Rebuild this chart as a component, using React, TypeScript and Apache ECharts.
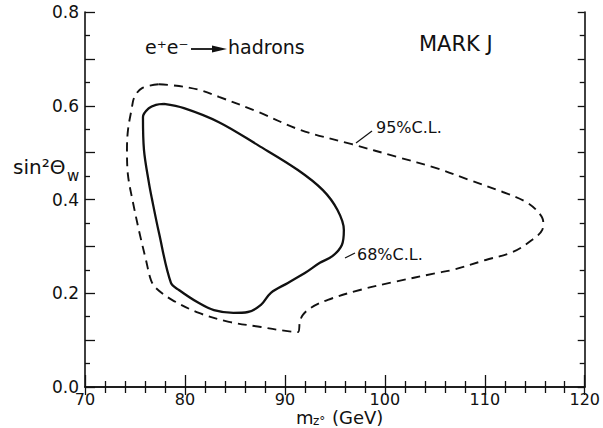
import React, { useEffect, useRef } from 'react';
import * as echarts from 'echarts';

// Axis tick labels
const xTickLabels = [70, 80, 90, 100, 110, 120];
const yTickLabels = [0.0, 0.2, 0.4, 0.6, 0.8];

// 68% C.L. contour (m_Z in GeV, sin^2 theta_W), closed loop
const cl68Mass = [77.9, 79.9, 83.4, 87.3, 91.3, 93.8, 95.25, 95.9, 95.7, 94.75, 93.5, 92.0, 90.3, 88.6, 87.6, 86.3, 84.85, 82.9, 81.4, 79.4, 78.6, 77.4, 76.7, 76.4, 75.9, 75.8, 76.4, 77.1, 77.9];
const cl68Sin2 = [0.604, 0.595, 0.565, 0.516, 0.463, 0.420, 0.378, 0.335, 0.303, 0.279, 0.265, 0.243, 0.222, 0.201, 0.175, 0.160, 0.158, 0.164, 0.179, 0.207, 0.222, 0.329, 0.401, 0.435, 0.506, 0.576, 0.595, 0.602, 0.604];

// 95% C.L. contour, closed loop
const cl95Mass = [77.4, 79.4, 81.4, 83.4, 87.3, 91.6, 96.7, 101.2, 105.15, 108.4, 111.8, 114.1, 115.35, 115.85, 115.75, 114.75, 112.8, 110.1, 106.8, 105.15, 100.9, 97.5, 94.3, 92.6, 91.8, 91.5, 91.3, 89.3, 87.6, 84.4, 81.4, 78.7, 77.1, 76.6, 76.1, 75.45, 74.75, 74.3, 74.2, 74.3, 74.65, 74.95, 75.75, 77.4];
const cl95Sin2 = [0.646, 0.642, 0.634, 0.619, 0.587, 0.548, 0.518, 0.491, 0.467, 0.442, 0.416, 0.395, 0.373, 0.352, 0.335, 0.314, 0.288, 0.271, 0.250, 0.243, 0.224, 0.207, 0.186, 0.169, 0.154, 0.139, 0.117, 0.122, 0.128, 0.139, 0.158, 0.186, 0.211, 0.228, 0.271, 0.329, 0.399, 0.452, 0.506, 0.548, 0.591, 0.619, 0.638, 0.646];

const FONT = 'DejaVu Sans';
const INK = '#111';

export default function App() {
  const ref = useRef<HTMLDivElement>(null);

  useEffect(() => {
    if (!ref.current) return;
    const chart = echarts.init(ref.current, undefined, { renderer: 'svg' });

    const data68 = cl68Mass.map((m, i) => [m, cl68Sin2[i]]);
    const data95 = cl95Mass.map((m, i) => [m, cl95Sin2[i]]);

    const axisLine = { show: true, lineStyle: { color: INK, width: 1.6 } };
    const tickStyle = { color: INK, width: 1.3 };

    const yLabelFmt = (v: number) => {
      const hit = yTickLabels.some((t) => Math.abs(t - v) < 1e-6);
      return hit ? v.toFixed(1) : '';
    };
    const xLabelFmt = (v: number) => (xTickLabels.includes(Math.round(v)) ? String(Math.round(v)) : '');

    chart.setOption({
      animation: false,
      backgroundColor: '#fff',
      grid: { left: 85, right: 13, top: 12, bottom: 41, containLabel: false },
      xAxis: [
        {
          type: 'value', min: 70, max: 120, interval: 10, position: 'bottom',
          axisLine,
          axisTick: { inside: true, length: 12, lineStyle: tickStyle },
          minorTick: { show: true, splitNumber: 5, length: 6, lineStyle: tickStyle },
          splitLine: { show: false }, minorSplitLine: { show: false },
          axisLabel: { color: INK, fontSize: 16, lineHeight: 15, margin: 5, fontFamily: FONT, formatter: xLabelFmt },
        },
        {
          type: 'value', min: 70, max: 120, interval: 10, position: 'top',
          axisLine,
          axisTick: { inside: true, length: 8, lineStyle: tickStyle },
          minorTick: { show: true, splitNumber: 5, length: 6, lineStyle: tickStyle },
          splitLine: { show: false }, minorSplitLine: { show: false },
          axisLabel: { show: false },
        },
      ],
      yAxis: [
        {
          type: 'value', min: 0, max: 0.8, interval: 0.1, position: 'left',
          axisLine,
          axisTick: { inside: true, length: 10, lineStyle: tickStyle },
          minorTick: { show: true, splitNumber: 2, length: 5, lineStyle: tickStyle },
          splitLine: { show: false }, minorSplitLine: { show: false },
          axisLabel: { color: INK, fontSize: 17, margin: 6, fontFamily: FONT, formatter: yLabelFmt },
        },
        {
          type: 'value', min: 0, max: 0.8, interval: 0.1, position: 'right',
          axisLine,
          axisTick: { inside: true, length: 7, lineStyle: tickStyle },
          minorTick: { show: true, splitNumber: 2, length: 5, lineStyle: tickStyle },
          splitLine: { show: false }, minorSplitLine: { show: false },
          axisLabel: { show: false },
        },
      ],
      series: [
        {
          name: '68% C.L.', type: 'line', xAxisIndex: 0, yAxisIndex: 0,
          data: data68, smooth: 0.35, showSymbol: false, symbol: 'none',
          lineStyle: { color: INK, width: 2.3 },
        },
        {
          name: '95% C.L.', type: 'line', xAxisIndex: 0, yAxisIndex: 0,
          data: data95, smooth: 0.35, showSymbol: false, symbol: 'none',
          lineStyle: { color: INK, width: 1.9, type: [9, 6] },
        },
      ],
      graphic: [
        // process label
        { type: 'text', left: 145, top: 37, style: { text: 'e⁺e⁻', font: `19px "${FONT}"`, fill: INK } },
        { type: 'line', shape: { x1: 191, y1: 49, x2: 214, y2: 49 }, style: { stroke: INK, lineWidth: 1.8 } },
        { type: 'polygon', shape: { points: [[212, 45.5], [227, 49], [212, 52.5]] }, style: { fill: INK } },
        { type: 'text', left: 228, top: 37, style: { text: 'hadrons', font: `19px "${FONT}"`, fill: INK } },
        // experiment
        { type: 'text', left: 419, top: 33, style: { text: 'MARK J', font: `21px "${FONT}"`, fill: INK } },
        // contour labels
        { type: 'text', left: 376, top: 119, style: { text: '95%C.L.', font: `16px "${FONT}"`, fill: INK } },
        { type: 'line', shape: { x1: 372, y1: 131, x2: 356, y2: 143 }, style: { stroke: INK, lineWidth: 1.2 } },
        { type: 'text', left: 357, top: 246, style: { text: '68%C.L.', font: `16px "${FONT}"`, fill: INK } },
        { type: 'line', shape: { x1: 345, y1: 258, x2: 355, y2: 253 }, style: { stroke: INK, lineWidth: 1.2 } },
        // y-axis name
        { type: 'text', left: 13, top: 157, style: { text: 'sin²Θ', font: `20px "${FONT}"`, fill: INK } },
        { type: 'text', left: 67, top: 168, style: { text: 'w', font: `15px "${FONT}"`, fill: INK } },
        // x-axis name
        { type: 'text', left: 296, top: 408, style: { text: 'm', font: `18px "${FONT}"`, lineHeight: 18, fill: INK } },
        { type: 'text', left: 313, top: 415, style: { text: 'z°', font: `12px "${FONT}"`, lineHeight: 12, fill: INK } },
        { type: 'text', left: 332, top: 408, style: { text: '(GeV)', font: `18px "${FONT}"`, lineHeight: 18, fill: INK } },
      ],
    });

    return () => chart.dispose();
  }, []);

  return <div ref={ref} style={{ width: 603, height: 428, position: 'absolute', left: 0, top: 0 }} />;
}
